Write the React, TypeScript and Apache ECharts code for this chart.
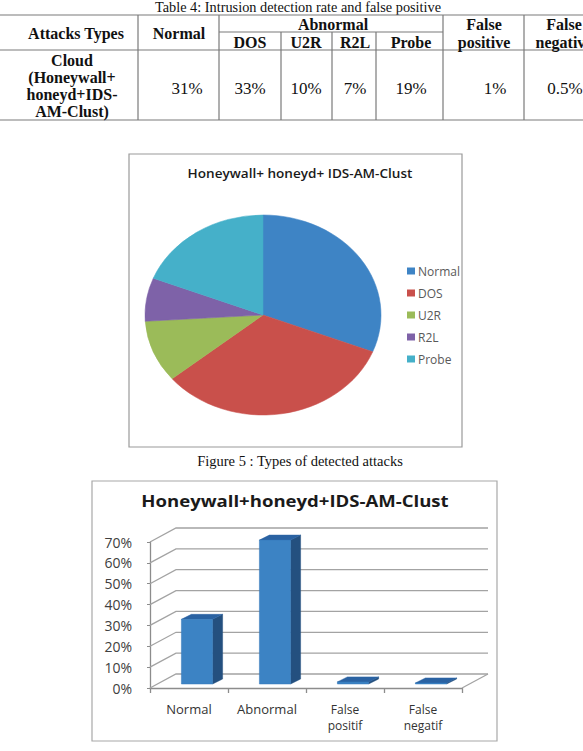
import React, { useEffect, useRef } from 'react';
import * as echarts from 'echarts';

// ---- data ----
const attackTypes = ['Normal', 'DOS', 'U2R', 'R2L', 'Probe'];
const attackShares = [31, 33, 10, 7, 19];
const falsePositive = 1;
const falseNegative = 0.5;
const pieColors = ['#3E84C5', '#C9504B', '#9BBB59', '#7E62A8', '#45B0C9'];

const barCategories = ['Normal', 'Abnormal', 'False\npositif', 'False\nnegatif'];
const barValues = [31, 69, 1, 0.5];
const yTicks = [0, 10, 20, 30, 40, 50, 60, 70];

const tableCaption = 'Table 4: Intrusion detection rate and false positive';
const rowLabelLines = ['Cloud', '(Honeywall+', 'honeyd+IDS-', 'AM-Clust)'];
const abnormalHeaders = ['DOS', 'U2R', 'R2L', 'Probe'];
const pieTitle = 'Honeywall+ honeyd+ IDS-AM-Clust';
const figureCaption = 'Figure 5 : Types of detected attacks';
const barTitle = 'Honeywall+honeyd+IDS-AM-Clust';

// ---- style constants ----
const SERIF = '"Liberation Serif", "Times New Roman", serif';
const SANS = '"Open Sans", "Noto Sans", sans-serif';
const WALL_DX = 26;
const WALL_DY = -14;
const BAR_DX = 8;
const BAR_DY = -4;
const BAR_DEPTH_X = 10;
const BAR_DEPTH_Y = -5;

function txt(text: string, x: number, y: number, opts: any = {}) {
  return {
    type: 'text',
    x,
    y,
    scaleX: opts.scaleX || 1,
    silent: true,
    style: {
      text,
      fill: opts.fill || '#111',
      fontFamily: opts.fontFamily || SERIF,
      fontSize: opts.fontSize || 16,
      fontWeight: opts.fontWeight || 'normal',
      align: opts.align || 'center',
      textAlign: opts.align || 'center',
      verticalAlign: 'middle',
      textVerticalAlign: 'middle',
    },
  };
}
function ln(x1: number, y1: number, x2: number, y2: number, stroke = '#7a7a7a', lineWidth = 1.2) {
  return { type: 'line', silent: true, shape: { x1, y1, x2, y2 }, style: { stroke, lineWidth } };
}

function buildGraphic() {
  const g: any[] = [];
  // table
  g.push(txt(tableCaption, 298, 7, { fontSize: 14.3 }));
  g.push(ln(0, 15, 583, 15));
  g.push(ln(219, 32, 443, 32));
  g.push(ln(0, 50, 583, 50));
  g.push(ln(0, 120, 583, 120));
  [138, 219, 443, 524].forEach((x) => g.push(ln(x, 15, x, 120)));
  [281, 332, 376].forEach((x) => g.push(ln(x, 32, x, 120)));
  const hb = { fontWeight: 'bold', fontSize: 16 };
  g.push(txt('Attacks Types', 76, 33, hb));
  g.push(txt('Normal', 179, 33, hb));
  g.push(txt('Abnormal', 333, 24, hb));
  const subX = [250, 306, 355, 411];
  abnormalHeaders.forEach((h, i) => g.push(txt(h, subX[i], 42, hb)));
  g.push(txt('False', 484, 24, hb));
  g.push(txt('positive', 484, 42, hb));
  g.push(txt('False', 564, 24, hb));
  g.push(txt('negative', 564, 42, hb));
  rowLabelLines.forEach((t, i) => g.push(txt(t, 72, 60 + i * 17, hb)));
  const vals = [...attackShares, falsePositive, falseNegative].map((v) => v + '%');
  const valX = [187, 250, 306, 355, 411, 495, 565];
  vals.forEach((v, i) => g.push(txt(v, valX[i], 88, { fontSize: 17 })));

  // pie box
  g.push({ type: 'rect', silent: true, shape: { x: 129, y: 154, width: 333, height: 293 }, style: { fill: 'none', stroke: '#9a9a9a', lineWidth: 1.2 } });
  g.push(txt(pieTitle, 300, 173, { fontFamily: SANS, fontSize: 12, fontWeight: 600, fill: '#1a1a1a', scaleX: 1.13 }));
  g.push(txt(figureCaption, 300, 461, { fontSize: 14.5 }));

  // bar box
  g.push({ type: 'rect', silent: true, shape: { x: 92, y: 481, width: 405, height: 260 }, style: { fill: 'none', stroke: '#a8a8a8', lineWidth: 1.2 } });
  g.push(txt(barTitle, 295, 501, { fontFamily: SANS, fontSize: 16, fontWeight: 'bold', fill: '#1a1a1a', scaleX: 1.16 }));
  return g;
}

function buildOption(): any {
  const total = attackShares.reduce((a, b) => a + b, 0);
  const pieSeries = attackTypes.map((name, k) => {
    const start = attackShares.slice(0, k).reduce((a, b) => a + b, 0) / total;
    const end = start + attackShares[k] / total;
    return {
      name,
      type: 'custom',
      coordinateSystem: 'none',
      itemStyle: { color: pieColors[k] },
      data: [attackShares[k]],
      silent: true,
      renderItem: () => ({
        type: 'sector',
        x: 263,
        y: 315,
        scaleX: 1.18,
        shape: {
          cx: 0,
          cy: 0,
          r0: 0,
          r: 100,
          startAngle: -Math.PI / 2 + start * 2 * Math.PI,
          endAngle: -Math.PI / 2 + end * 2 * Math.PI,
          clockwise: true,
        },
        style: { fill: pieColors[k], stroke: pieColors[k], lineWidth: 0.5 },
      }),
    };
  });

  const wallSeries = {
    type: 'custom',
    coordinateSystem: 'cartesian2d',
    silent: true,
    z: 1,
    data: yTicks.map((v) => [0, v]),
    renderItem: (params: any, api: any) => {
      const v = api.value(1);
      const half = api.size([1, 0])[0] / 2;
      const pl = api.coord([0, v]);
      const pr = api.coord([barCategories.length - 1, v]);
      const xl = pl[0] - half;
      const xr = pr[0] + half;
      const y = pl[1];
      const children: any[] = [
        {
          type: 'polyline',
          shape: { points: [[xl, y], [xl + WALL_DX, y + WALL_DY], [xr + WALL_DX, y + WALL_DY]] },
          style: { stroke: '#a3a3a3', lineWidth: 1.3, fill: 'none' },
        },
      ];
      if (v === 0) {
        children.push({
          type: 'line',
          shape: { x1: xr, y1: y, x2: xr + WALL_DX, y2: y + WALL_DY },
          style: { stroke: '#a3a3a3', lineWidth: 1.3 },
        });
      }
      return { type: 'group', children };
    },
  };

  const barSeries = {
    type: 'custom',
    coordinateSystem: 'cartesian2d',
    silent: true,
    z: 3,
    data: barValues.map((v, i) => [i, v]),
    renderItem: (params: any, api: any) => {
      const i = api.value(0);
      const v = api.value(1);
      const base = api.coord([i, 0]);
      const top = api.coord([i, v]);
      const w = api.size([1, 0])[0] * 0.4;
      const cx = base[0] + BAR_DX;
      const yb = base[1] + BAR_DY;
      const yt = top[1] + BAR_DY;
      const xl = cx - w / 2;
      const xr = cx + w / 2;
      return {
        type: 'group',
        children: [
          {
            type: 'polygon',
            shape: { points: [[xr, yt], [xr + BAR_DEPTH_X, yt + BAR_DEPTH_Y], [xr + BAR_DEPTH_X, yb + BAR_DEPTH_Y], [xr, yb]] },
            style: { fill: '#24507f', stroke: '#24507f', lineWidth: 0.5 },
          },
          {
            type: 'polygon',
            shape: { points: [[xl, yt], [xl + BAR_DEPTH_X, yt + BAR_DEPTH_Y], [xr + BAR_DEPTH_X, yt + BAR_DEPTH_Y], [xr, yt]] },
            style: { fill: '#2a62a2', stroke: '#2a62a2', lineWidth: 0.5 },
          },
          {
            type: 'rect',
            shape: { x: xl, y: yt, width: w, height: Math.max(yb - yt, 0.5) },
            style: { fill: '#3c83c4', stroke: '#3579b8', lineWidth: 0.5 },
          },
        ],
      };
    },
  };

  return {
    animation: false,
    backgroundColor: '#ffffff',
    color: pieColors,
    graphic: { elements: buildGraphic() },
    legend: {
      orient: 'vertical',
      left: 402,
      top: 260,
      itemWidth: 8,
      itemHeight: 7,
      itemGap: 10,
      icon: 'rect',
      selectedMode: false,
      data: attackTypes,
      textStyle: { fontFamily: SANS, fontSize: 12, color: '#595959', lineHeight: 12, padding: [0, 0, 0, -2] },
    },
    grid: { left: 150, right: 121, top: 542, bottom: 63 },
    xAxis: {
      type: 'category',
      data: barCategories,
      boundaryGap: true,
      axisLine: { lineStyle: { color: '#8c8c8c', width: 1.3 } },
      axisTick: { show: true, length: 5, alignWithLabel: false, lineStyle: { color: '#8c8c8c', width: 1.3 } },
      axisLabel: {
        interval: 0,
        margin: 13,
        fontFamily: SANS,
        color: '#333',
        formatter: (v: string) => (v.indexOf('\n') >= 0 ? '{s|' + v.split('\n').join('}\n{s|') + '}' : '{b|' + v + '}'),
        rich: {
          b: { fontFamily: SANS, fontSize: 13, lineHeight: 15, color: '#333' },
          s: { fontFamily: SANS, fontSize: 12, lineHeight: 16.5, color: '#333' },
        },
      },
      splitLine: { show: false },
    },
    yAxis: {
      type: 'value',
      min: 0,
      max: 70,
      interval: 10,
      axisLine: { show: true, lineStyle: { color: '#8c8c8c', width: 1.3 } },
      axisTick: { show: true, length: 3, lineStyle: { color: '#8c8c8c' } },
      axisLabel: { formatter: '{value}%', margin: 18, fontFamily: SANS, fontSize: 14, color: '#404040' },
      splitLine: { show: false },
    },
    series: [...pieSeries, wallSeries, barSeries],
  };
}

export default function App() {
  const ref = useRef<HTMLDivElement>(null);
  useEffect(() => {
    const chart = echarts.init(ref.current as HTMLDivElement, null, { renderer: 'svg' });
    chart.setOption(buildOption());
    return () => chart.dispose();
  }, []);
  return (
    <div
      ref={ref}
      style={{ position: 'absolute', left: 0, top: 0, width: 583, height: 751, background: '#fff' }}
    />
  );
}
